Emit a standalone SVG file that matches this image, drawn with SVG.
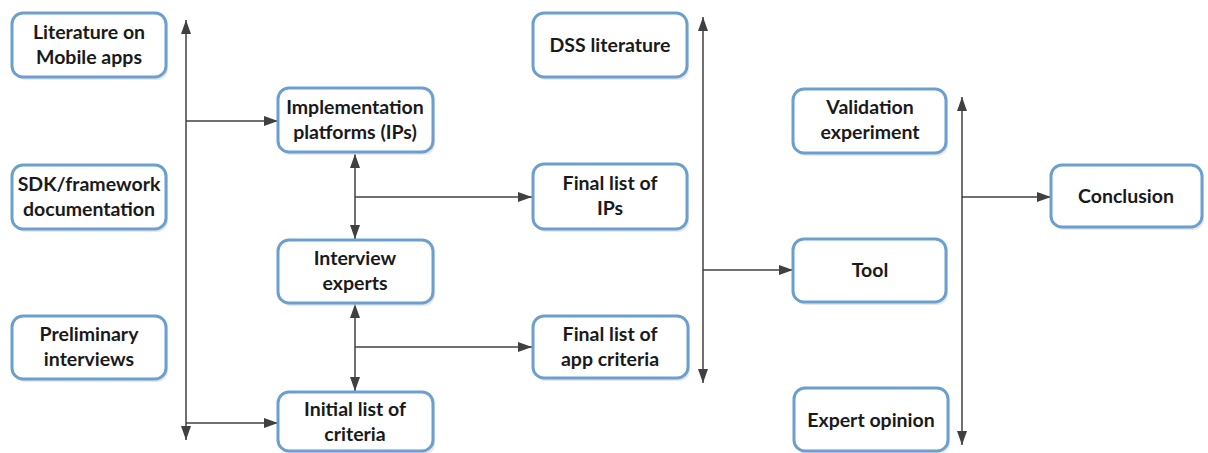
<svg xmlns="http://www.w3.org/2000/svg" width="1208" height="453" viewBox="0 0 1208 453">
  <style>
    .box { fill: #ffffff; stroke: #6b9fd0; stroke-width: 3; }
    .shadow { fill: #d9d9d9; opacity: 0.6; }
    .lbl { font-family: "Lato", "Liberation Sans", sans-serif; font-weight: bold; font-size: 19.5px; fill: #1a1a1a; text-anchor: middle; }
    .conn { stroke: #404040; stroke-width: 1.5; fill: none; }
  </style>
  <defs>
    <marker id="arrow" viewBox="0 0 14 10" markerWidth="14" markerHeight="10" refX="14" refY="5" orient="auto-start-reverse" markerUnits="userSpaceOnUse">
      <path d="M0,0 L14,5 L0,10 z" fill="#404040"/>
    </marker>
  </defs>
  <rect width="1208" height="453" fill="#ffffff"/>

  <!-- connectors -->
  <g id="connectors" class="conn">
    <line x1="186" y1="440" x2="186" y2="20" marker-start="url(#arrow)" marker-end="url(#arrow)"/>
    <line x1="186" y1="121" x2="278" y2="121" marker-end="url(#arrow)"/>
    <line x1="186" y1="423" x2="278" y2="423" marker-end="url(#arrow)"/>
    <line x1="355" y1="154" x2="355" y2="239" marker-start="url(#arrow)" marker-end="url(#arrow)"/>
    <line x1="355" y1="197" x2="532" y2="197" marker-end="url(#arrow)"/>
    <line x1="355" y1="304" x2="355" y2="391" marker-start="url(#arrow)" marker-end="url(#arrow)"/>
    <line x1="355" y1="347" x2="532" y2="347" marker-end="url(#arrow)"/>
    <line x1="703" y1="383" x2="703" y2="17" marker-start="url(#arrow)" marker-end="url(#arrow)"/>
    <line x1="703" y1="270" x2="793" y2="270" marker-end="url(#arrow)"/>
    <line x1="962" y1="445" x2="962" y2="97" marker-start="url(#arrow)" marker-end="url(#arrow)"/>
    <line x1="962" y1="197" x2="1051" y2="197" marker-end="url(#arrow)"/>
  </g>

  <!-- nodes -->
  <g id="lit-mobile">
    <rect class="shadow" x="14" y="16" width="154" height="64" rx="11"/>
    <rect class="box" x="12" y="13" width="154" height="64" rx="11"/>
    <text class="lbl" x="89" y="39">Literature on</text>
    <text class="lbl" x="89" y="64">Mobile apps</text>
  </g>
  <g id="sdk-docs">
    <rect class="shadow" x="14" y="168" width="154" height="64" rx="11"/>
    <rect class="box" x="12" y="165" width="154" height="64" rx="11"/>
    <text class="lbl" x="89" y="191">SDK/framework</text>
    <text class="lbl" x="89" y="216">documentation</text>
  </g>
  <g id="prelim-interviews">
    <rect class="shadow" x="14" y="319" width="154" height="63" rx="11"/>
    <rect class="box" x="12" y="316" width="154" height="63" rx="11"/>
    <text class="lbl" x="89" y="341">Preliminary</text>
    <text class="lbl" x="89" y="366">interviews</text>
  </g>
  <g id="impl-platforms">
    <rect class="shadow" x="280" y="91" width="155" height="64" rx="11"/>
    <rect class="box" x="278" y="88" width="155" height="64" rx="11"/>
    <text class="lbl" x="355" y="114">Implementation</text>
    <text class="lbl" x="355" y="139">platforms (IPs)</text>
  </g>
  <g id="interview-experts">
    <rect class="shadow" x="280" y="243" width="155" height="63" rx="11"/>
    <rect class="box" x="278" y="240" width="155" height="63" rx="11"/>
    <text class="lbl" x="355" y="265">Interview</text>
    <text class="lbl" x="355" y="290">experts</text>
  </g>
  <g id="initial-criteria">
    <rect class="shadow" x="280" y="395" width="155" height="60" rx="11"/>
    <rect class="box" x="278" y="392" width="155" height="59" rx="11"/>
    <text class="lbl" x="355" y="416">Initial list of</text>
    <text class="lbl" x="355" y="441">criteria</text>
  </g>
  <g id="dss-literature">
    <rect class="shadow" x="535" y="16" width="154" height="64" rx="11"/>
    <rect class="box" x="533" y="13" width="154" height="64" rx="11"/>
    <text class="lbl" x="610" y="52">DSS literature</text>
  </g>
  <g id="final-ips">
    <rect class="shadow" x="535" y="167" width="154" height="65" rx="11"/>
    <rect class="box" x="533" y="164" width="154" height="65" rx="11"/>
    <text class="lbl" x="610" y="190">Final list of</text>
    <text class="lbl" x="610" y="215">IPs</text>
  </g>
  <g id="final-app-criteria">
    <rect class="shadow" x="535" y="319" width="155" height="62" rx="11"/>
    <rect class="box" x="533" y="316" width="155" height="62" rx="11"/>
    <text class="lbl" x="610" y="341">Final list of</text>
    <text class="lbl" x="610" y="366">app criteria</text>
  </g>
  <g id="validation-experiment">
    <rect class="shadow" x="795" y="92" width="153" height="64" rx="11"/>
    <rect class="box" x="793" y="89" width="153" height="64" rx="11"/>
    <text class="lbl" x="870" y="114">Validation</text>
    <text class="lbl" x="870" y="139">experiment</text>
  </g>
  <g id="tool">
    <rect class="shadow" x="795" y="242" width="153" height="63" rx="11"/>
    <rect class="box" x="793" y="239" width="153" height="63" rx="11"/>
    <text class="lbl" x="870" y="277">Tool</text>
  </g>
  <g id="expert-opinion">
    <rect class="shadow" x="796" y="391" width="154" height="63" rx="11"/>
    <rect class="box" x="794" y="388" width="154" height="63" rx="11"/>
    <text class="lbl" x="871" y="427">Expert opinion</text>
  </g>
  <g id="conclusion">
    <rect class="shadow" x="1053" y="168" width="151" height="62" rx="11"/>
    <rect class="box" x="1051" y="165" width="151" height="62" rx="11"/>
    <text class="lbl" x="1126" y="203">Conclusion</text>
  </g>
</svg>
